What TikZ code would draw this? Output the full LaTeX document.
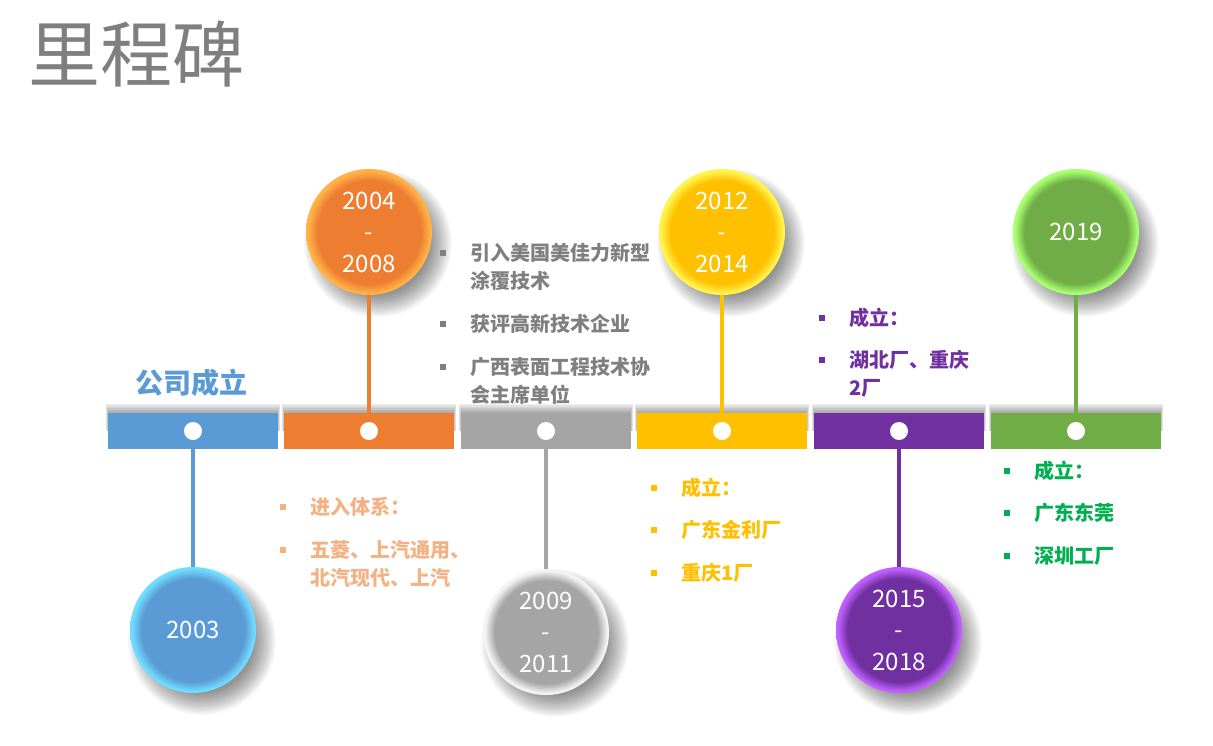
\documentclass[tikz,border=0pt]{standalone}
\usepackage{fontspec}
\setmainfont{Noto Sans CJK SC}
\definecolor{cbase}{HTML}{5B9BD5}
\definecolor{crim}{HTML}{6FD6FF}
\definecolor{bBlue}{HTML}{5B9BD5}\definecolor{rBlue}{HTML}{70DCFF}
\definecolor{bOrange}{HTML}{ED7D31}\definecolor{rOrange}{HTML}{FFB347}
\definecolor{bGray}{HTML}{A5A5A5}\definecolor{rGray}{HTML}{F4F4F4}
\definecolor{bYellow}{HTML}{FFC000}\definecolor{rYellow}{HTML}{FFF44F}
\definecolor{bPurple}{HTML}{7030A0}\definecolor{rPurple}{HTML}{C060FF}
\definecolor{bGreen}{HTML}{70AD47}\definecolor{rGreen}{HTML}{A8FF70}
\definecolor{tGray}{HTML}{7F7F7F}
\definecolor{tOrange}{HTML}{F4B183}
\definecolor{tGreen}{HTML}{00B050}
\pgfdeclareradialshading[cbase,crim]{rimshade}{\pgfpointorigin}{color(0bp)=(cbase); color(20.5bp)=(cbase); color(24.3bp)=(crim); color(25bp)=(crim); color(50bp)=(crim)}
\newcommand{\circshadow}[2]{%
  \foreach \k in {0,...,17}{\fill[black, opacity=0.026] (#1+9,#2+11) circle[radius=74-\k*1.3];}}
\newcommand{\barshadow}[1]{%
  \foreach \k in {0,...,5}{\fill[black, opacity=0.06] (#1-87+\k*0.4,404+\k*1.4) rectangle (#1+87-\k*0.4,431);}}
\tikzset{
  yearc/.style 2 args={circle, minimum size=126pt, inner sep=0pt, draw=none,
    /utils/exec={\colorlet{cbase}{#1}\colorlet{crim}{#2}},
    shade, shading=rimshade,
    text=white, align=center, font=\fontsize{24}{31.5}\selectfont},
  barseg/.style={rectangle, minimum width=170pt, minimum height=36pt, inner sep=0pt, draw=none},
  tdot/.style={circle, fill=white, minimum size=18pt, inner sep=0pt},
  conn/.style={line width=4pt},
  bsq/.style={rectangle, minimum size=6pt, inner sep=0pt},
  btxt/.style={anchor=base west, inner sep=0pt, font=\fontsize{20}{24}\selectfont\bfseries},
}
\begin{document}
\begin{tikzpicture}[x=1pt,y=-1pt]
\useasboundingbox (0,0) rectangle (1213,745);
\fill[white] (0,0) rectangle (1213,745);
% title
\node[anchor=base west, inner sep=0pt, text=tGray, font=\fontsize{72}{80}\selectfont] (title) at (28,81) {里程碑};
% shadows
\circshadow{193}{630}
\circshadow{369}{232}
\circshadow{546}{632}
\circshadow{722}{232}
\circshadow{899}{630}
\circshadow{1076}{232}
\barshadow{193}
\barshadow{369}
\barshadow{546}
\barshadow{722}
\barshadow{899}
\barshadow{1076}
% year circles
\node[yearc={bBlue}{rBlue}] (c1) at (193,630) {2003};
\node[yearc={bOrange}{rOrange}] (c2) at (369,232) {2004\\-\\2008};
\node[yearc={bGray}{rGray}] (c3) at (546,632) {2009\\-\\2011};
\node[yearc={bYellow}{rYellow}] (c4) at (722,232) {2012\\-\\2014};
\node[yearc={bPurple}{rPurple}] (c5) at (899,630) {2015\\-\\2018};
\node[yearc={bGreen}{rGreen}] (c6) at (1076,232) {2019};
% bars
\node[barseg, fill=bBlue] (b1) at (193,431) {};
\node[barseg, fill=bOrange] (b2) at (369,431) {};
\node[barseg, fill=bGray] (b3) at (546,431) {};
\node[barseg, fill=bYellow] (b4) at (722,431) {};
\node[barseg, fill=bPurple] (b5) at (899,431) {};
\node[barseg, fill=bGreen] (b6) at (1076,431) {};
% connectors
\draw[conn, bBlue] (c1.north) -- (b1.south);
\draw[conn, bOrange] (c2.south) -- (b2.north);
\draw[conn, bGray] (c3.north) -- (b3.south);
\draw[conn, bYellow] (c4.south) -- (b4.north);
\draw[conn, bPurple] (c5.north) -- (b5.south);
\draw[conn, bGreen] (c6.south) -- (b6.north);
% dots
\node[tdot] (d1) at (b1.center) {};
\node[tdot] (d2) at (b2.center) {};
\node[tdot] (d3) at (b3.center) {};
\node[tdot] (d4) at (b4.center) {};
\node[tdot] (d5) at (b5.center) {};
\node[tdot] (d6) at (b6.center) {};
% company founded
\node[anchor=base west, inner sep=0pt, text=bBlue, font=\fontsize{28}{32}\selectfont\bfseries] (gs) at (135,393) {公司成立};
% gray list
\node[bsq, fill=tGray] (q1) at (443,253) {};
\node[btxt, text=tGray] (t1) at (470,260.5) {引入美国美佳力新型};
\node[btxt, text=tGray] (t1b) at (470,288.5) {涂覆技术};
\node[bsq, fill=tGray] (q2) at (443,324) {};
\node[btxt, text=tGray] (t2) at (470,331.5) {获评高新技术企业};
\node[bsq, fill=tGray] (q3) at (443,367) {};
\node[btxt, text=tGray] (t3) at (470,374.5) {广西表面工程技术协};
\node[btxt, text=tGray] (t3b) at (470,402.5) {会主席单位};
% orange list
\node[bsq, fill=tOrange] (q4) at (283,507) {};
\node[btxt, text=tOrange] (t4) at (310,514.5) {进入体系：};
\node[bsq, fill=tOrange] (q5) at (283,550) {};
\node[btxt, text=tOrange] (t5) at (310,557.5) {五菱、上汽通用、};
\node[btxt, text=tOrange] (t5b) at (310,585.5) {北汽现代、上汽};
% yellow list
\node[bsq, fill=bYellow] (q6) at (654,488) {};
\node[btxt, text=bYellow] (t6) at (681,495.5) {成立：};
\node[bsq, fill=bYellow] (q7) at (654,530) {};
\node[btxt, text=bYellow] (t7) at (681,537.5) {广东金利厂};
\node[bsq, fill=bYellow] (q8) at (654,573) {};
\node[btxt, text=bYellow] (t8) at (681,580.5) {重庆1厂};
% purple list
\node[bsq, fill=bPurple] (q9) at (822,318) {};
\node[btxt, text=bPurple] (t9) at (849,325.5) {成立：};
\node[bsq, fill=bPurple] (q10) at (822,360) {};
\node[btxt, text=bPurple] (t10) at (849,367.5) {湖北厂、重庆};
\node[btxt, text=bPurple] (t10b) at (849,395.5) {2厂};
% green list
\node[bsq, fill=tGreen] (q11) at (1007,471) {};
\node[btxt, text=tGreen] (t11) at (1034,478.5) {成立：};
\node[bsq, fill=tGreen] (q12) at (1007,513) {};
\node[btxt, text=tGreen] (t12) at (1034,520.5) {广东东莞};
\node[bsq, fill=tGreen] (q13) at (1007,556) {};
\node[btxt, text=tGreen] (t13) at (1034,563.5) {深圳工厂};
\end{tikzpicture}
\end{document}
